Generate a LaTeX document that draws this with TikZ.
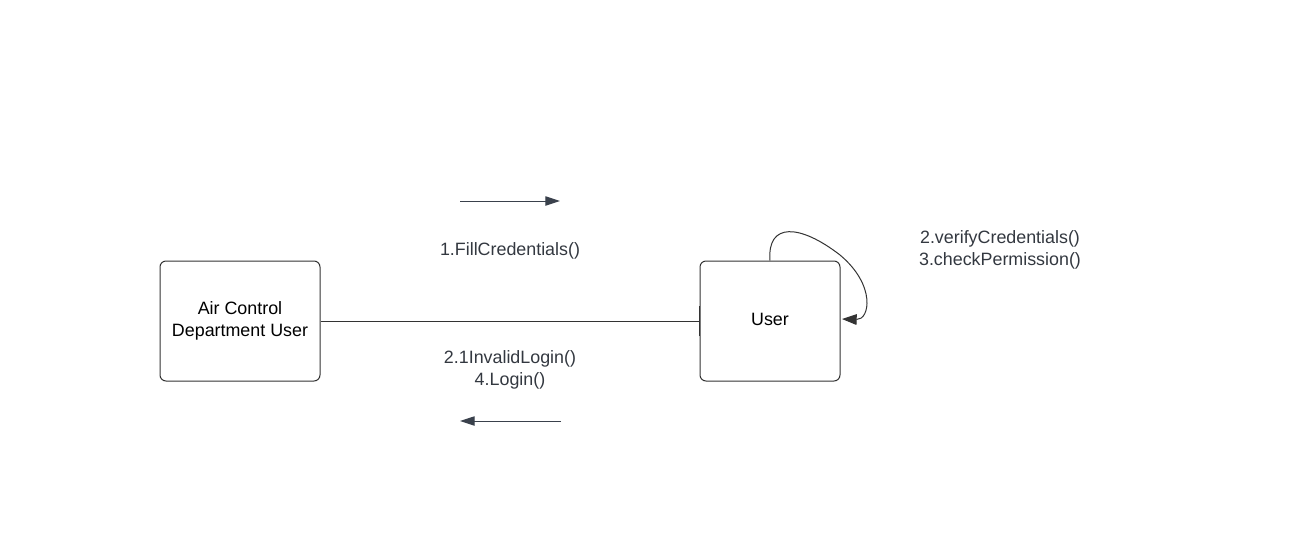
\documentclass[tikz,border=0pt]{standalone}
\usepackage{fontspec}
\setmainfont{Liberation Sans}
\usetikzlibrary{arrows.meta}
\definecolor{txt}{HTML}{333840}
\definecolor{arr}{HTML}{3A414C}
\definecolor{edge}{HTML}{333333}
\begin{document}
\begin{tikzpicture}[x=0.75pt,y=-0.75pt,
  objbox/.style={draw=edge,line width=0.75pt,rounded corners=4.5pt,minimum width=160*0.75pt,minimum height=120*0.75pt,align=center,font=\fontsize{13.4}{16.5}\selectfont,text=black,inner sep=0pt},
  lbl/.style={align=center,font=\fontsize{13.4}{16.5}\selectfont,text=txt,inner sep=0pt},
  msg/.style={draw=arr,line width=0.75pt,-{Triangle[length=11pt,width=7pt]}}]
\useasboundingbox (0,0) rectangle (1300,554);
\node[objbox] (acd) at (240,321) {Air Control\\Department User};
\node[objbox,minimum width=140*0.75pt] (usr) at (770,321) {\raisebox{2.2pt}{User}};
\draw[edge,line width=0.7pt] (acd.east) -- (usr.west);
\draw[edge,line width=1pt] ([yshift=-15*0.75pt]usr.west) -- ([yshift=15*0.75pt]usr.west);
\coordinate (looptip) at (842,319);
\draw[edge,line width=0.75pt,-{Triangle[length=11pt,width=8pt]}] (usr.north) .. controls (767,222) and (800,224) .. (840,255) .. controls (876,285) and (870,320) .. (looptip);
\coordinate (a1s) at (460,201);
\coordinate (a1e) at (560,201);
\draw[msg] (a1s) -- (a1e);
\coordinate (a2s) at (561,421);
\coordinate (a2e) at (460,421);
\draw[msg] (a2s) -- (a2e);
\node[lbl] (m1) at (510,250.5) {1.FillCredentials()};
\node[lbl] (m2) at (510,370) {2.1InvalidLogin()\\4.Login()};
\node[lbl] (m3) at (1000,250) {2.verifyCredentials()\\3.checkPermission()};
\end{tikzpicture}
\end{document}
